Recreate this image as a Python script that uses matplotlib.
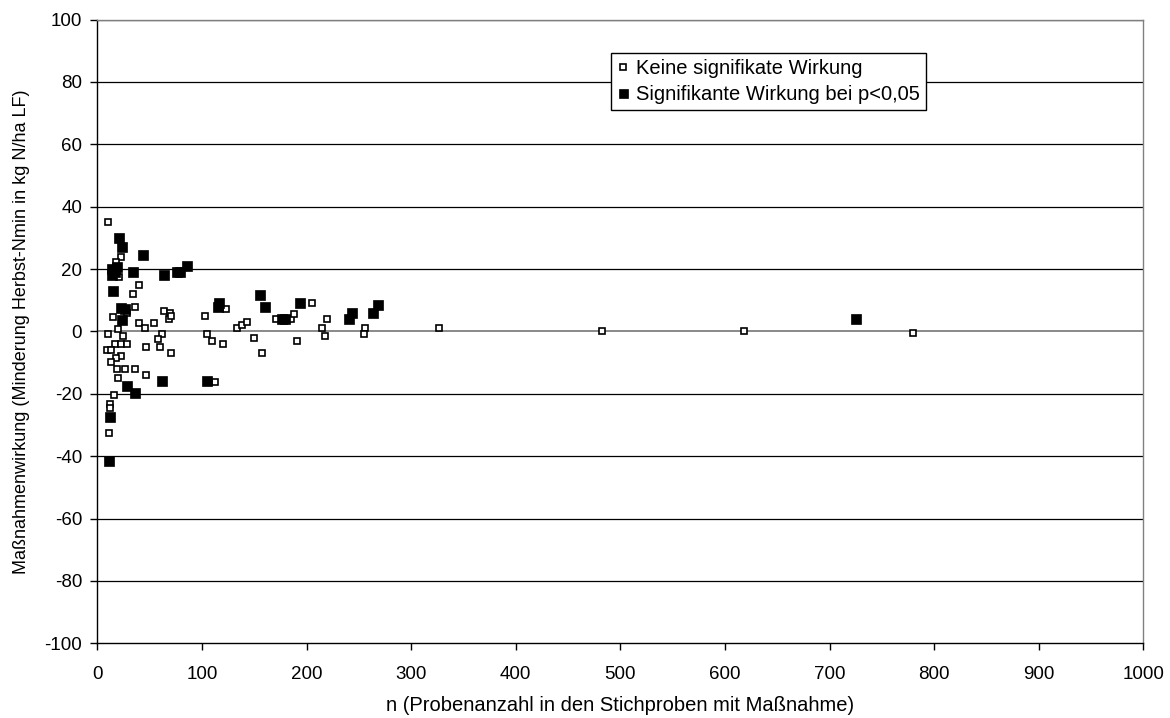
import matplotlib.pyplot as plt

plt.rcParams['font.family'] = ['Liberation Sans', 'DejaVu Sans']
plt.rcParams['axes.unicode_minus'] = False

# Keine signifikante Wirkung (offene Quadrate)
n_ns = [9.9, 22.9, 18.2, 20.5, 40.2, 34.1, 36, 63.5, 102.7, 15, 28.7, 40.2, 45.3, 54.2,
        69.2, 68.3, 70.7, 10.2, 19.8, 24.3, 62.1, 58, 60, 46.3, 70.2, 105, 109.4,
        17.2, 22.9, 28.1, 9.6, 12.8, 22.4, 18.2, 12.8, 19.1, 26.2, 36, 46.3, 20.1,
        112.2, 16, 12.1, 12.1, 11.2, 123, 133.3, 138.6, 143.1, 170.8, 184.9, 188,
        205, 219.3, 215.1, 218, 119.9, 150.1, 157.7, 190.9, 255.9, 255, 327, 482,
        618, 780]
v_ns = [35, 24, 22.2, 17.4, 15, 11.9, 7.9, 6.5, 5, 4.5, 5.8, 2.6, 1.2, 2.6,
        6, 4, 5, -0.9, 0.7, -1.4, -0.9, -2.5, -4.9, -4.9, -7, -0.9, -3.1,
        -3.9, -3.9, -3.9, -5.9, -6.1, -7.9, -8.6, -9.9, -12, -12, -12, -14, -14.8,
        -16.3, -20.5, -23.4, -24.7, -32.5, 7.1, 1.0, 2.0, 3.0, 3.9, 3.9, 5.5,
        9.0, 3.9, 1.0, -1.5, -4, -2, -7, -3, 1.0, -0.9, 1.0, 0,
        0, -0.5]

# Signifikante Wirkung bei p<0,05 (gefuellte Quadrate)
n_sig = [11.2, 12.1, 20.5, 23.9, 44, 14, 14, 17, 19, 33.8, 63.5, 75.9, 78.8, 86, 15,
         23, 26, 24, 62, 105, 28, 36, 116.6, 115.7, 155.8, 160, 193.8, 176.3, 179.4,
         243.8, 241, 268, 263.9, 725]
v_sig = [-41.5, -27.4, 29.9, 27.1, 24.5, 20, 18, 19, 20.5, 19.0, 18.0, 19, 19, 21, 13,
         7.4, 7.2, 3.7, -15.9, -15.9, -17.4, -19.9, 9.2, 7.7, 11.7, 7.9, 9.0, 3.9, 3.9,
         6.0, 4.0, 8.5, 6.0, 4.0]

fig = plt.figure(figsize=(11.7, 7.18), dpi=100)
ax = fig.add_axes([0.0832, 0.104, 0.894, 0.8688])

for y in range(-80, 101, 20):
    if y == 0:
        continue
    ax.axhline(y, color='black', lw=0.9, zorder=1)
ax.axhline(0, color='#808080', lw=1.3, zorder=1)

ax.plot(n_ns, v_ns, ls='none', marker='s', ms=4.3, mfc='white', mec='black', mew=1.2,
        zorder=3, label='Keine signifikate Wirkung')
ax.plot(n_sig, v_sig, ls='none', marker='s', ms=7.2, mfc='black', mec='black', mew=0.5,
        zorder=4, label='Signifikante Wirkung bei p<0,05')

ax.set_xlim(0, 1000)
ax.set_ylim(-100, 100)
ax.set_xticks(range(0, 1001, 100))
ax.set_yticks(range(-100, 101, 20))

ax.spines['left'].set_color('black')
ax.spines['bottom'].set_color('black')
ax.spines['top'].set_color('#808080')
ax.spines['right'].set_color('#808080')
for s in ax.spines.values():
    s.set_linewidth(1.0)

ax.tick_params(axis='both', labelsize=13.5, length=5, width=1, color='black')
ax.tick_params(axis='x', pad=11)
ax.tick_params(axis='y', pad=6)

ax.set_xlabel('n (Probenanzahl in den Stichproben mit Maßnahme)', fontsize=14.5, labelpad=10)
ax.set_ylabel('Maßnahmenwirkung (Minderung Herbst-Nmin in kg N/ha LF)', fontsize=13, labelpad=10)

leg = ax.legend(loc='upper left', bbox_to_anchor=(0.491, 0.947), fontsize=14.5,
                frameon=True, fancybox=False, edgecolor='black', framealpha=1,
                handlelength=0.55, handletextpad=0.4, borderpad=0.3, labelspacing=0.38,
                borderaxespad=0, markerscale=0.9)
leg.get_frame().set_linewidth(1.0)

fig.savefig('out.png', dpi=100)
